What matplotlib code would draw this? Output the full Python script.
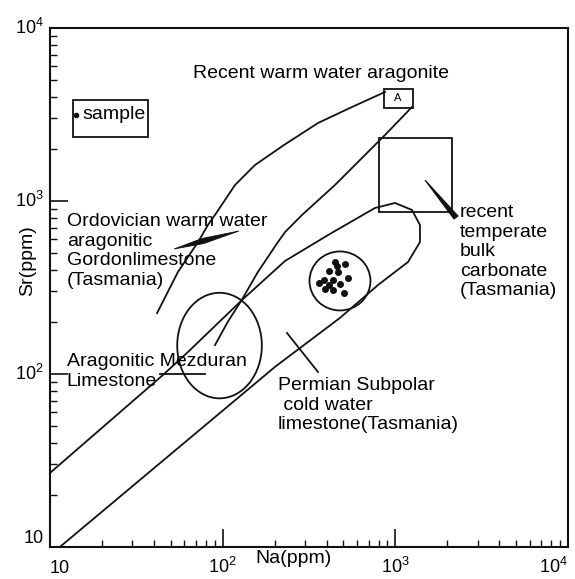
import numpy as np
import matplotlib
matplotlib.use("Agg")
import matplotlib.pyplot as plt
from matplotlib.patches import Ellipse, Rectangle, Polygon
from matplotlib.ticker import LogLocator, NullFormatter

plt.rcParams["font.family"] = ["Liberation Sans", "DejaVu Sans"]
plt.rcParams["mathtext.default"] = "regular"

# ---- outlines, in (Na ppm, Sr ppm) ----
# recent warm water aragonite envelope
warm_outer_na = [41.7, 55.1, 72.0, 82.2, 92.7, 117.9, 153.9, 226.6, 356.6, 561, 871]
warm_outer_sr = [225, 389, 579, 727, 864, 1237, 1615, 2107, 2824, 3494, 4267]
warm_inner_na = [1249, 871, 762, 447, 288, 230, 209, 160, 129, 107, 90.3]
warm_inner_sr = [3494, 2407, 2107, 1237, 830, 662, 579, 389, 268, 200, 147]

# permian subpolar cold water envelope
permian_na = [10, 45.1, 63.0, 129.4, 229.6, 418, 762, 996, 1249, 1389, 1389, 1184, 794, 478, 201, 11.4]
permian_sr = [26.8, 98.7, 134.1, 267.7, 450, 645, 911, 974, 887, 727, 579, 444, 327, 211, 110, 10]

# ellipses: centre (Na, Sr) and extent in decades (Na, Sr)
mezduran_center = (95.9, 146)
mezduran_span = (0.49, 0.61)
cluster_center = (478, 345)
cluster_span = (0.353, 0.341)

# boxes (Na range, Sr range)
temperate_na = (804, 2129)
temperate_sr = (864, 2313)
box_a_na = (860, 1266)
box_a_sr = (3449, 4440)
legend_na = (13.6, 36.9)
legend_sr = (2344, 3836)

# samples
sample_na = [447, 511, 413, 466, 532, 386, 436, 361, 478, 391, 436, 504, 413, 459]
sample_sr = [444, 432, 394, 389, 359, 349, 349, 336, 331, 310, 306, 294, 327, 421]

# pointer marks
ordo_ptr_na = [52.3, 75.9, 124.3, 77.9]
ordo_ptr_sr = [528, 607, 671, 568]
mezd_ptr_na = [43.4, 79.0]
mezd_ptr_sr = [100, 100]
perm_ptr_na = [235.8, 356.6]
perm_ptr_sr = [172.6, 102.7]
temp_ptr_na = [1485, 2306, 2186]
temp_ptr_sr = [1322, 819, 787]

ticks = [10, 100, 1000, 10000]
tick_labels = ["10", "$10^{2}$", "$10^{3}$", "$10^{4}$"]

fig = plt.figure(figsize=(5.75, 5.79), dpi=100)
ax = fig.add_axes([50 / 575, 32 / 579, 518 / 575, 519 / 579])
ax.set_xscale("log")
ax.set_yscale("log")
ax.set_xlim(10, 1e4)
ax.set_ylim(10, 1e4)

lc = "#111111"
lw = 1.3

# ---- envelopes ----
ax.plot(warm_outer_na, warm_outer_sr, color=lc, lw=lw, solid_joinstyle="round")
ax.plot(warm_inner_na, warm_inner_sr, color=lc, lw=lw, solid_joinstyle="round")
ax.plot(permian_na, permian_sr, color=lc, lw=lw, solid_joinstyle="round")

# ellipses drawn in log space
log_tr = ax.transLimits + ax.transAxes
for c, s in [(mezduran_center, mezduran_span), (cluster_center, cluster_span)]:
    ax.add_patch(Ellipse((np.log10(c[0]), np.log10(c[1])), s[0], s[1],
                         transform=log_tr, fill=False, ec=lc, lw=lw))

for bx, by in [(temperate_na, temperate_sr), (box_a_na, box_a_sr), (legend_na, legend_sr)]:
    ax.add_patch(Rectangle((bx[0], by[0]), bx[1] - bx[0], by[1] - by[0],
                           fill=False, ec=lc, lw=lw))

ax.plot(sample_na, sample_sr, "o", color=lc, ms=4, ls="none")

# pointers
ax.add_patch(Polygon(list(zip(ordo_ptr_na, ordo_ptr_sr)), closed=True, fc=lc, ec=lc, lw=0.6))
ax.add_patch(Polygon(list(zip(temp_ptr_na, temp_ptr_sr)), closed=True, fc=lc, ec=lc, lw=0.8))
ax.plot(mezd_ptr_na, mezd_ptr_sr, color=lc, lw=lw)
ax.plot(perm_ptr_na, perm_ptr_sr, color=lc, lw=lw)

# ---- labels ----
fs = 14
ax.text(371, 5141, "Recent warm water aragonite", fontsize=fs, ha="center", va="baseline")
ax.text(12.5, 852, "Ordovician warm water\naragonitic\nGordonlimestone\n(Tasmania)",
        fontsize=fs, ha="left", va="top")
ax.text(12.5, 132.2, "Aragonitic Mezduran\nLimestone", fontsize=fs, ha="left", va="top")
ax.text(209, 96.1, "Permian Subpolar\n cold water\nlimestone(Tasmania)",
        fontsize=fs, ha="left", va="top")
ax.text(2368, 960, "recent\ntemperate\nbulk\ncarbonate\n(Tasmania)",
        fontsize=fs, ha="left", va="top")
ax.text(1036, 3939, "A", fontsize=8, ha="center", va="center")

# legend
ax.plot([14.1], [3142], "o", color=lc, ms=3)
ax.text(15.5, 2979, "sample", fontsize=fs, ha="left", va="baseline")

# ---- axes ----
for sp in ax.spines.values():
    sp.set_linewidth(1.5)
    sp.set_color(lc)

ax.set_xticks(ticks, tick_labels)
ax.set_yticks(ticks, tick_labels)
ax.xaxis.set_minor_locator(LogLocator(base=10, subs=np.arange(2, 10)))
ax.yaxis.set_minor_locator(LogLocator(base=10, subs=np.arange(2, 10)))
ax.xaxis.set_minor_formatter(NullFormatter())
ax.yaxis.set_minor_formatter(NullFormatter())
ax.tick_params(which="both", direction="in", top=False, right=False, color=lc)
ax.tick_params(which="major", length=13, width=1.2, labelsize=13)
ax.tick_params(which="minor", length=5, width=1.0)
ax.tick_params(axis="x", which="major", pad=19.0)
ax.tick_params(axis="y", which="major", pad=4.5)

xlabs = ax.get_xticklabels()
for lab in xlabs:
    lab.set_verticalalignment("baseline")
xlabs[0].set_horizontalalignment("left")
xlabs[-1].set_horizontalalignment("right")
for i, lab in enumerate(ax.get_yticklabels()):
    lab.set_verticalalignment("bottom" if i == 0 else "center")

ax.set_xlabel("Na(ppm)", fontsize=fs, va="baseline")
ax.xaxis.set_label_coords(0.471, -0.031)
ax.set_ylabel("Sr(ppm)", fontsize=fs, va="center", ha="center")
ax.yaxis.set_label_coords(-0.044, 0.551)

fig.savefig("out.png", dpi=100)
